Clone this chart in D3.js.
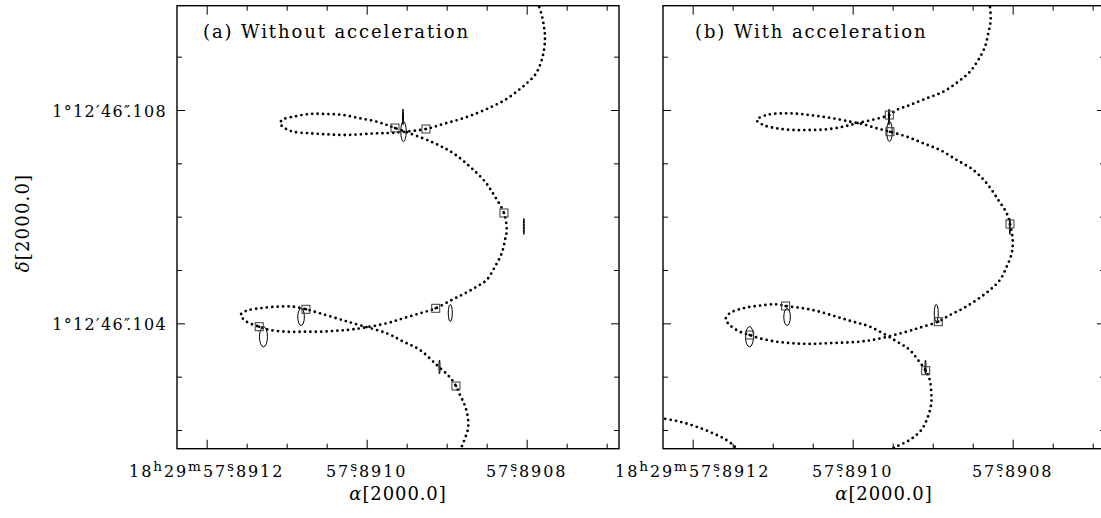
<!DOCTYPE html>
<html>
<head>
<meta charset="utf-8">
<script src="https://cdn.jsdelivr.net/npm/d3@7"></script>
<style>
  body { margin: 0; background: #fff; }
  svg { display: block; font-family: "DejaVu Serif", serif; }
</style>
</head>
<body>
<svg id="chart" width="1101" height="518"></svg>
<script>
// offsets: dRA in microseconds of time from 18h29m57.8910s,
//          dDec in milliarcsec from +1°12'46.100"

// model track, fit without acceleration  [dRA, dDec]
var pathNoAccel = [
  [-213.5,10.025],[-218.8,9.781],[-221.6,9.562],[-222.9,9.374],[-221.6,9.125],[-217.5,8.876],
  [-210.4,8.656],[-200,8.501],[-187.5,8.343],[-172.9,8.188],[-156.3,8.062],[-137.5,7.938],
  [-116.6,7.826],[-95.8,7.738],[-74.1,7.644],[-33.3,7.574],[-12.5,7.563],[8.4,7.544],
  [29.3,7.531],[50,7.544],[70.9,7.563],[91.8,7.593],[102.1,7.657],[108.4,7.751],[104.6,7.822],
  [91.8,7.874],[70.9,7.925],[50,7.925],[29.3,7.906],[8.4,7.844],[-12.5,7.781],[-35.4,7.663],
  [-83.3,7.387],[-108.3,7.188],[-129.1,6.937],[-147.9,6.656],[-160.4,6.374],[-171.6,6.069],
  [-175,5.75],[-172.9,5.563],[-168.8,5.313],[-160.4,5.062],[-150,4.813],[-137.5,4.687],
  [-122.9,4.563],[-106.3,4.438],[-86.3,4.282],[-66.6,4.188],[-45.8,4.094],[-25,4.0],
  [16.8,3.888],[37.5,3.862],[58.4,3.843],[79.3,3.843],[100,3.843],[120.9,3.875],[134.3,3.937],
  [150,4.031],[157.5,4.156],[150,4.237],[133.4,4.282],[112.5,4.312],[91.8,4.312],[75.9,4.263],
  [58.4,4.188],[37.5,4.094],[16.8,4.0],[-25,3.813],[-45.8,3.656],[-66.6,3.5],[-87.5,3.219],
  [-103.3,3.0],[-111.6,2.825],[-116.6,2.656],[-121.6,2.501],[-125,2.343],[-127,2.156],
  [-126.3,2.0],[-122.9,1.844],[-118.8,1.687],[-114.1,1.531]
];

// model track, fit with acceleration
var pathAccel = [
  [-171,10.025],[-172.5,9.688],[-169.5,9.438],[-165.4,9.187],[-157,8.938],[-146.6,8.718],
  [-132,8.531],[-113.3,8.343],[-92.5,8.219],[-71.6,8.094],[-55,8.0],[-45.8,7.906],[-23.8,7.813],
  [-5,7.751],[11.8,7.687],[32.5,7.638],[53.4,7.625],[74.3,7.625],[95,7.657],[111.8,7.719],
  [120,7.813],[107.5,7.906],[86.8,7.938],[65.9,7.925],[45,7.888],[24.3,7.844],[3.4,7.781],
  [-13.3,7.732],[-30,7.657],[-46.6,7.593],[-67.5,7.5],[-88.3,7.376],[-109.1,7.25],[-130,7.063],
  [-150.8,6.875],[-167.5,6.626],[-182,6.313],[-192.5,6.063],[-196.6,5.863],[-200,5.563],
  [-198.8,5.313],[-192.5,5.062],[-184.1,4.813],[-171.6,4.625],[-155,4.438],[-138.3,4.282],
  [-121.6,4.156],[-107,4.031],[-87.9,3.937],[-67.3,3.843],[-29.5,3.701],[-8.8,3.656],
  [12.1,3.637],[33,3.626],[53.8,3.613],[74.6,3.626],[95.5,3.656],[116.3,3.719],[128.8,3.781],
  [141.3,3.843],[153.8,3.969],[158.8,4.081],[153.8,4.188],[137.1,4.282],[116.3,4.331],
  [95.5,4.357],[83.8,4.325],[62.1,4.282],[41.3,4.218],[20.5,4.124],[-0.4,4.031],[-21.3,3.937],
  [-58.8,3.626],[-71.3,3.5],[-81.6,3.313],[-91.3,3.112],[-96.3,2.938],[-98.3,2.688],
  [-98.3,2.501],[-94.1,2.249],[-85.8,2.0],[-71.3,1.813],[-54.5,1.687],[-40.4,1.569]
];
// earlier part of the accelerated track entering lower left
var pathAccelEarly = [
  [247.1,2.263],[237.1,2.219],[216.3,2.156],[195.5,2.062],[174.6,1.938],[158,1.813],
  [147.5,1.687],[140.9,1.569]
];

// model positions at the epochs of observation
var boxesNoAccel = [[-35.4,7.663],[-74.1,7.644],[-171.6,6.069],[-86.3,4.282],[75.9,4.263],[134.3,3.937],[-111.6,2.825]];
var boxesAccel = [[-45.8,7.906],[-46.6,7.593],[-196.6,5.863],[-107,4.031],[83.8,4.325],[128.8,3.781],[-91.3,3.112]];

// observed positions and 1-sigma errors
var obsRA = [-45.4, -46, -196.5, -104.5, 82, 129, -91];
var obsDec = [7.869, 7.597, 5.816, 4.194, 4.119, 3.749, 3.181];
var obsErrRA = [0.6, 3.4, 0.6, 2.5, 4.1, 5, 0.7];
var obsErrDec = [0.15, 0.19, 0.15, 0.16, 0.16, 0.19, 0.13];

// ticks
var xMajor = [200, 0, -200];
var xMinor = [150, 100, 50, -50, -100, -150, -250, -300];
var xTickLabels = ["18h29m57s.8912", "57s.8910", "57s.8908"];
var yMajor = [4, 8];
var yMinor = [2, 3, 5, 6, 7, 9];
var yTickLabels = ["1°12′46″.104", "1°12′46″.108"];

var svg = d3.select("#chart");
var plotTop = 5.7, plotBottom = 448.7;

var y = d3.scaleLinear().domain([1.649, 9.956]).range([plotBottom, plotTop]);

var panels = [
  {id: "a", left: 177, right: 619, title: "(a) Without acceleration", titleX: 203,
   paths: [pathNoAccel], boxes: boxesNoAccel, yLabels: true},
  {id: "b", left: 663, right: 1105, title: "(b) With acceleration", titleX: 695,
   paths: [pathAccel, pathAccelEarly], boxes: boxesAccel, yLabels: false}
];

// text with superscript h m s and the decimal point under s / ″
function richText(sel, str, size) {
  var parts = str.split(/([hms″])/);
  var raised = false;
  parts.forEach(function(p) {
    if (p === "") return;
    if (/^[hms]$/.test(p)) {
      sel.append("tspan").attr("dy", -6).attr("font-size", size * 0.85).text(p);
      raised = true;
    } else if (p === "″") {
      sel.append("tspan").text(p);
      raised = "prime";
    } else {
      var t = sel.append("tspan");
      if (raised === true) t.attr("dy", 6);
      if (p.charAt(0) === "." && raised) {
        t.attr("dx", raised === "prime" ? -5 : -7);
      }
      t.text(p);
      raised = false;
    }
  });
}

panels.forEach(function(p) {
  var x = d3.scaleLinear().domain([237.1, -315.4]).range([p.left, p.right]);
  var g = svg.append("g");

  g.append("clipPath").attr("id", "clip_" + p.id)
    .append("rect")
    .attr("x", p.left).attr("y", plotTop)
    .attr("width", p.right - p.left).attr("height", plotBottom - plotTop);

  var plot = g.append("g").attr("clip-path", "url(#clip_" + p.id + ")");

  var line = d3.line()
    .x(function(d) { return x(d[0]); })
    .y(function(d) { return y(d[1]); })
    .curve(d3.curveCatmullRom.alpha(0.5));

  // dotted model track
  p.paths.forEach(function(pts) {
    plot.append("path")
      .datum(pts)
      .attr("d", line)
      .attr("fill", "none")
      .attr("stroke", "#000")
      .attr("stroke-width", 2.8)
      .attr("stroke-linecap", "round")
      .attr("stroke-dasharray", "0 5.4");
  });

  // error ellipses of observed positions
  plot.selectAll(".obs")
    .data(obsRA)
    .enter()
    .append("ellipse")
    .attr("cx", function(d) { return x(d); })
    .attr("cy", function(d, i) { return y(obsDec[i]); })
    .attr("rx", function(d, i) { return Math.abs(x(d + obsErrRA[i]) - x(d)); })
    .attr("ry", function(d, i) { return Math.abs(y(obsDec[i] + obsErrDec[i]) - y(obsDec[i])); })
    .attr("fill", "none")
    .attr("stroke", "#000")
    .attr("stroke-width", 1);

  // model positions: boxes with a dot
  plot.selectAll(".box")
    .data(p.boxes)
    .enter()
    .append("rect")
    .attr("x", function(d) { return x(d[0]) - 4; })
    .attr("y", function(d) { return y(d[1]) - 4; })
    .attr("width", 8)
    .attr("height", 8)
    .attr("fill", "none")
    .attr("stroke", "#3a3a3a")
    .attr("stroke-width", 1);
  plot.selectAll(".boxdot")
    .data(p.boxes)
    .enter()
    .append("circle")
    .attr("cx", function(d) { return x(d[0]); })
    .attr("cy", function(d) { return y(d[1]); })
    .attr("r", 1.3)
    .attr("fill", "#000");

  // ticks on all four sides, pointing inward
  function ticks(axis, vals, size, tx, ty) {
    var a = g.append("g")
      .attr("transform", "translate(" + tx + "," + ty + ")")
      .call(axis.tickValues(vals).tickSizeInner(-size).tickSizeOuter(0).tickFormat(""));
    a.select(".domain").remove();
    a.selectAll("line").attr("stroke", "#000").attr("stroke-width", 1);
  }
  ticks(d3.axisBottom(x), xMajor, 9, 0, plotBottom);
  ticks(d3.axisBottom(x), xMinor, 5, 0, plotBottom);
  ticks(d3.axisTop(x), xMajor, 9, 0, plotTop);
  ticks(d3.axisTop(x), xMinor, 5, 0, plotTop);
  ticks(d3.axisLeft(y), yMajor, 8, p.left, 0);
  ticks(d3.axisLeft(y), yMinor, 5, p.left, 0);
  ticks(d3.axisRight(y), yMajor, 8, p.right, 0);
  ticks(d3.axisRight(y), yMinor, 5, p.right, 0);

  // frame
  g.append("rect")
    .attr("x", p.left).attr("y", plotTop)
    .attr("width", p.right - p.left).attr("height", plotBottom - plotTop)
    .attr("fill", "none")
    .attr("stroke", "#000")
    .attr("stroke-width", 1.4);

  // x tick labels
  xMajor.forEach(function(v, i) {
    var t = g.append("text")
      .attr("x", x(v))
      .attr("y", 477)
      .attr("text-anchor", "middle")
      .attr("font-size", 16)
      .attr("letter-spacing", 1.9);
    richText(t, xTickLabels[i], 16);
  });

  // y tick labels on the left panel only
  if (p.yLabels) {
    yMajor.forEach(function(v, i) {
      var t = g.append("text")
        .attr("x", 167)
        .attr("y", y(v) + 7)
        .attr("text-anchor", "end")
        .attr("font-size", 16)
        .attr("letter-spacing", 1.3);
      richText(t, yTickLabels[i], 16);
    });
  }

  // x axis title
  var xt = g.append("text")
    .attr("x", (p.left + p.right) / 2)
    .attr("y", 500)
    .attr("text-anchor", "middle")
    .attr("font-size", 18)
    .attr("letter-spacing", 0.9);
  xt.append("tspan").attr("font-style", "italic").text("α");
  xt.append("tspan").text("[2000.0]");

  // panel title
  g.append("text")
    .attr("x", p.titleX)
    .attr("y", 38)
    .attr("font-size", 18)
    .attr("letter-spacing", 1.9)
    .text(p.title);
});

// y axis title
var yt = svg.append("text")
  .attr("transform", "translate(29,223) rotate(-90)")
  .attr("text-anchor", "middle")
  .attr("font-size", 18)
  .attr("letter-spacing", 1.2);
yt.append("tspan").attr("font-style", "italic").text("δ");
yt.append("tspan").text("[2000.0]");
</script>
</body>
</html>
